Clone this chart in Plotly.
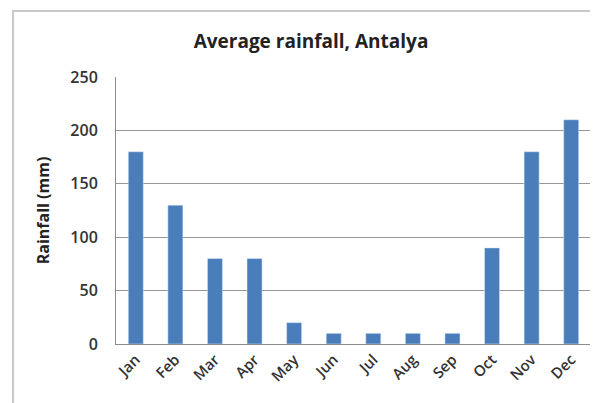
import plotly.graph_objects as go

months = ["Jan", "Feb", "Mar", "Apr", "May", "Jun", "Jul", "Aug", "Sep", "Oct", "Nov", "Dec"]
rainfall = [180, 130, 80, 80, 20, 10, 10, 10, 10, 90, 180, 210]
y_ticks = [0, 50, 100, 150, 200, 250]

OFF = 7  # page offset of the figure
W, H = 598 - OFF, 403 - OFF
L, R, T, B = 115 - OFF, 8, 76 - OFF, 60
pw, ph = W - L - R, H - T - B

def px_x(x):  # page px -> paper
    return (x - OFF - L) / pw

def px_y(y):
    return (OFF + H - B - y) / ph

fig = go.Figure(go.Bar(x=months, y=rainfall, marker_color="#4A7EBB", width=0.38))

fig.update_layout(
    width=W, height=H,
    margin=dict(l=L, r=R, t=T, b=B),
    paper_bgcolor="white", plot_bgcolor="white",
    font=dict(family="Open Sans", color="#404040"),
    title=dict(text="<b>Average rainfall, Antalya</b>", xref="container", x=(310 - OFF) / W,
               xanchor="center", yref="container", y=1 - (40 - OFF) / H, yanchor="middle",
               font=dict(size=19, color="#222222")),
    showlegend=False,
    shapes=[dict(type="rect", xref="paper", yref="paper",
                 x0=px_x(12), x1=px_x(620), y0=px_y(420), y1=px_y(10),
                 line=dict(color="#C8C8C8", width=2), layer="below")],
)
fig.update_xaxes(tickangle=-45, tickfont=dict(size=15, color="#333333", weight=600),
                 showline=True, linecolor="#8C8C8C", linewidth=1, ticks="")
fig.update_yaxes(range=[0, 250], tickvals=y_ticks, tickfont=dict(size=16, color="#333333", weight=600),
                 showgrid=True, gridcolor="#969696", gridwidth=1,
                 showline=True, linecolor="#8C8C8C", linewidth=1, zeroline=False,
                 ticklabelstandoff=14,
                 title=dict(text="<b>Rainfall (mm)</b>", font=dict(size=16, color="#222222"), standoff=16))

fig.write_html("out.html")
